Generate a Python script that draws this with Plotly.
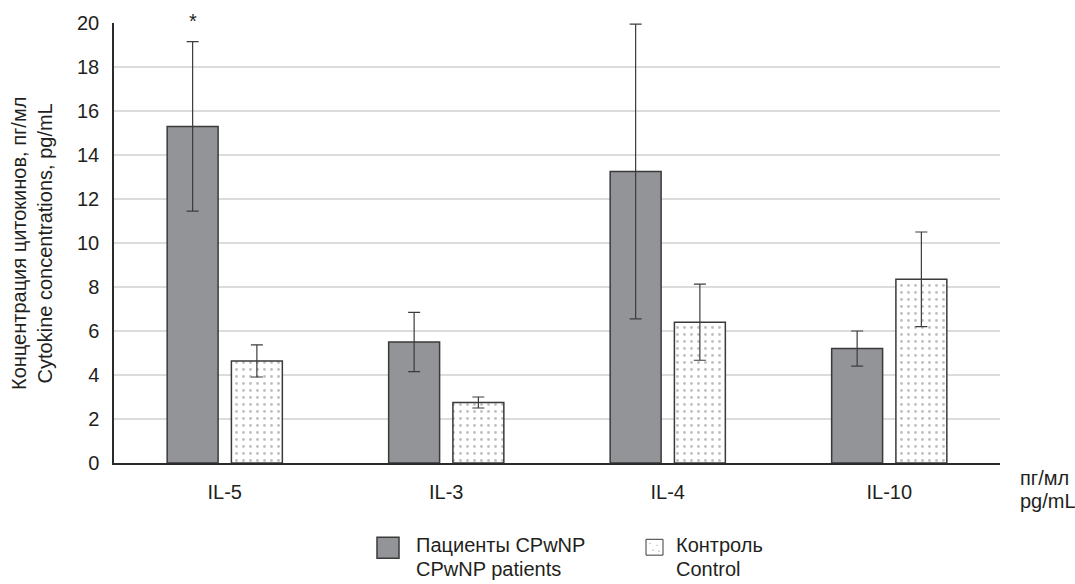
import plotly.graph_objects as go

categories = ["IL-5", "IL-3", "IL-4", "IL-10"]
patients = [15.3, 5.5, 13.25, 5.2]
patients_err = [3.85, 1.35, 6.7, 0.8]
control = [4.64, 2.75, 6.4, 8.35]
control_err = [0.73, 0.25, 1.73, 2.15]
yticks = [0, 2, 4, 6, 8, 10, 12, 14, 16, 18, 20]

FONT = "Liberation Sans, Arial, sans-serif"
TXT = "#231f20"
EDGE = "#3a3a3a"

fig = go.Figure()
fig.add_trace(go.Bar(
    x=categories, y=patients, name="Пациенты CPwNP<br>CPwNP patients",
    width=0.23, offset=-0.26,
    marker=dict(color="#939498", line=dict(color=EDGE, width=1.5)),
    error_y=dict(type="data", array=patients_err, visible=True,
                 color="#3c3c3c", thickness=1.2, width=6),
    showlegend=False,
))
fig.add_trace(go.Bar(
    x=categories, y=control, name="Контроль<br>Control",
    width=0.23, offset=0.03,
    marker=dict(color="white", line=dict(color=EDGE, width=1.5),
                pattern=dict(shape=".", fgcolor="#7f7f7f", bgcolor="white",
                             size=7, solidity=0.13)),
    error_y=dict(type="data", array=control_err, visible=True,
                 color="#3c3c3c", thickness=1.2, width=6),
    showlegend=False,
))

fig.update_layout(
    width=1075, height=584,
    margin=dict(l=114, r=75, t=19, b=121),
    plot_bgcolor="white", paper_bgcolor="white",
    font=dict(family=FONT, size=20, color=TXT),
    barmode="group",
    xaxis=dict(range=[-0.5, 3.5], showgrid=False, showline=True,
               linecolor="#2b2b2b", linewidth=1.5, ticks="",
               ticklabelstandoff=10, tickfont=dict(size=20),
               fixedrange=True),
    yaxis=dict(range=[0, 20], tickvals=yticks, showgrid=True,
               gridcolor="#dcdcdc", gridwidth=1.5, showline=True,
               linecolor="#2b2b2b", linewidth=1.5, ticks="",
               ticklabelstandoff=9, zeroline=False,
               tickfont=dict(size=20), fixedrange=True),
)

# significance mark above IL-5 patients bar
fig.add_annotation(x=categories[0], y=20, xref="x", yref="y", text="*",
                   showarrow=False, xshift=-32, yshift=2,
                   font=dict(size=20, color=TXT))

# y axis title
fig.add_annotation(x=-0.0926, y=0.5, xref="paper", yref="paper",
                   text="Концентрация цитокинов, пг/мл<br>Cytokine concentrations, pg/mL",
                   textangle=-90, showarrow=False, xanchor="center", yanchor="middle",
                   font=dict(size=20, color=TXT))

def px_x(p):
    return (p - 114) / 886.0

def px_y(p):
    return (463 - p) / 444.0

# unit label at end of x axis
fig.add_annotation(x=px_x(1018), y=px_y(478), xref="paper", yref="paper",
                   text="пг/мл", showarrow=False, xanchor="left", yanchor="middle",
                   font=dict(size=20, color=TXT))
fig.add_annotation(x=px_x(1018), y=px_y(501), xref="paper", yref="paper",
                   text="pg/mL", showarrow=False, xanchor="left", yanchor="middle",
                   font=dict(size=20, color=TXT))

# legend (manual)
fig.add_shape(type="rect", xref="paper", yref="paper",
              x0=px_x(377), x1=px_x(399), y0=px_y(538), y1=px_y(559),
              fillcolor="#939498", line=dict(color=EDGE, width=1.5))
fig.add_shape(type="rect", xref="paper", yref="paper",
              x0=px_x(646), x1=px_x(663), y0=px_y(540), y1=px_y(556),
              fillcolor="white", line=dict(color=EDGE, width=1))
for dx, dy in [(650, 544), (657, 546), (653, 551), (659, 552)]:
    fig.add_shape(type="circle", xref="paper", yref="paper",
                  x0=px_x(dx - 0.6), x1=px_x(dx + 0.6), y0=px_y(dy - 0.6), y1=px_y(dy + 0.6),
                  fillcolor="#8a8a8a", line=dict(width=0))

legend_lines = [
    (414, 546, "Пациенты CPwNP"),
    (414, 570, "CPwNP patients"),
    (674, 546, "Контроль"),
    (674, 570, "Control"),
]
for lx, ly, t in legend_lines:
    fig.add_annotation(x=px_x(lx), y=px_y(ly), xref="paper", yref="paper",
                       text=t, showarrow=False, xanchor="left", yanchor="middle",
                       font=dict(size=20, color=TXT))

fig.write_html("out.html", config={"displayModeBar": False},
               post_script="document.body.style.margin='0';document.body.style.overflow='hidden';")
